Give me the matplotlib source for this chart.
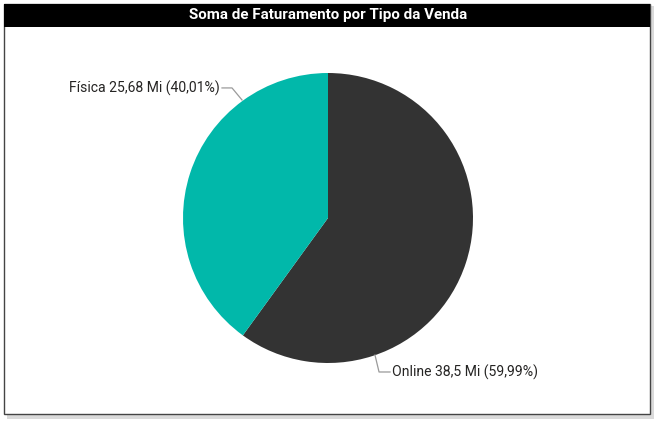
import matplotlib
matplotlib.use("Agg")
import matplotlib.pyplot as plt
from matplotlib.patches import Rectangle

categories = ["Online", "Física"]
values = [38.5, 25.68]  # Mi
colors = ["#333333", "#01B8AA"]
title = "Soma de Faturamento por Tipo da Venda"

plt.rcParams['font.family'] = ['Roboto', 'DejaVu Sans']

W, H = 656, 421
fig = plt.figure(figsize=(W / 100, H / 100), dpi=100)
fig.patch.set_facecolor("white")

def fx(px):
    return px / W

def fy(py):
    return 1 - py / H

# shadow
fig.patches.append(Rectangle((fx(7), fy(419)), fx(647), (419 - 6) / H,
                             transform=fig.transFigure, facecolor="#dadada",
                             edgecolor="none", zorder=0))
# panel
fig.patches.append(Rectangle((fx(4), fy(414)), fx(646), (414 - 4) / H,
                             transform=fig.transFigure, facecolor="white",
                             edgecolor="#444444", linewidth=1, zorder=1))
# title bar
fig.patches.append(Rectangle((fx(4), fy(27)), fx(646), (27 - 4) / H,
                             transform=fig.transFigure, facecolor="black",
                             edgecolor="none", zorder=2))
fig.text(fx(328), fy(15.5), title, color="white", fontsize=10.9,
         fontweight="bold", ha="center", va="center", zorder=3)

R = 145
ax = fig.add_axes([fx(328 - R), fy(218 + R), 2 * R / W, 2 * R / H])
ax.set_zorder(5)
ax.patch.set_alpha(0)
ax.pie(values, colors=colors, startangle=90, counterclock=False, radius=1,
       wedgeprops=dict(linewidth=0))
ax.set_xlim(-1, 1)
ax.set_ylim(-1, 1)
ax.set_aspect("equal")
ax.axis("off")

total = sum(values)

def fmt(v):
    s = f"{v:.2f}".rstrip("0").rstrip(".")
    return s.replace(".", ",")

labels = [f"{c} {fmt(v)} Mi ({v / total * 100:.2f}%)".replace(".", ",")
          for c, v in zip(categories, values)]

lc = "#9a9a9a"
# Online label
ax.plot([0.324, 0.352, 0.428], [-0.945, -1.062, -1.062], color=lc, lw=0.9,
        clip_on=False)
ax.text(0.443, -1.062, labels[0], ha="left", va="center", fontsize=10.1,
        color="#252423", clip_on=False)
# Física label
ax.plot([-0.593, -0.662, -0.731], [0.814, 0.897, 0.897], color=lc, lw=0.9,
        clip_on=False)
ax.text(-0.745, 0.897, labels[1], ha="right", va="center", fontsize=10.1,
        color="#252423", clip_on=False)

fig.savefig("out.png", dpi=100, facecolor=fig.get_facecolor())
